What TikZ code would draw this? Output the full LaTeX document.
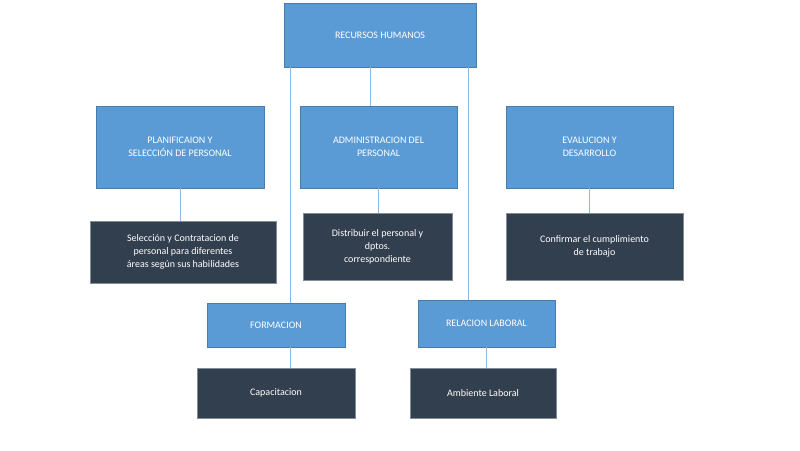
\documentclass[tikz,border=0pt]{standalone}
\usepackage{fontspec}
\setmainfont{Carlito}
\definecolor{cajaazul}{HTML}{5B9BD5}
\definecolor{cajaoscura}{HTML}{323F4F}
\begin{document}
\begin{tikzpicture}[x=1pt,y=-1pt,
    area/.style={draw=cajaazul!80!black,fill=cajaazul,text=white,align=center,inner sep=2pt,font=\fontsize{10}{13}\selectfont},
    tarea/.style={draw=cajaoscura!60!white,fill=cajaoscura,text=white,align=center,inner sep=2pt,font=\fontsize{10}{13}\selectfont},
    enlace/.style={draw=cajaazul!70!white,line width=0.6pt}]
    \useasboundingbox (0,0) rectangle (800,450);
    \node[area,minimum width=192,minimum height=64](rh)at(380,35){RECURSOS HUMANOS};

    \node[area,minimum width=168,minimum height=82](plan)at(180,147){PLANIFICAION Y\\SELECCIÓN DE PERSONAL};
    \node[area,minimum width=157,minimum height=82](admin)at(378.5,147){ADMINISTRACION DEL\\PERSONAL};
    \node[area,minimum width=167,minimum height=82](eval)at(589.5,147){EVALUCION Y\\DESARROLLO};

    \node[tarea,minimum width=186,minimum height=62](sel)at(183,252){Selección y Contratacion de\\personal para diferentes\\áreas según sus habilidades};
    \node[tarea,minimum width=149,minimum height=67](dist)at(377.5,246.5){Distribuir el personal y\\dptos.\\correspondiente};
    \node[tarea,minimum width=177,minimum height=67](conf)at(594.5,246.5){Confirmar el cumplimiento\\de trabajo};

    \node[area,minimum width=138,minimum height=44](form)at(276,325){FORMACION};
    \node[area,minimum width=137,minimum height=47](rel)at(486.5,323.5){RELACION LABORAL};

    \node[tarea,minimum width=158,minimum height=50](cap)at(276,393){Capacitacion};
    \node[tarea,minimum width=146,minimum height=50](amb)at(483,393){Ambiente Laboral};

    % enlaces
    \draw[enlace]([xshift=-90]rh.south)--([xshift=14]form.north);
    \draw[enlace]([xshift=-10]rh.south)--([xshift=-8.5]admin.north);
    \draw[enlace]([xshift=88]rh.south)--([xshift=-18.5]rel.north);
    \draw[enlace](plan)--(plan|-sel.north);
    \draw[enlace](admin.south)--(admin.south|-dist.north);
    \draw[enlace](eval.south)--(eval.south|-conf.north);
    \draw[enlace]([xshift=14]form.south)--([xshift=14]form.south|-cap.north);
    \draw[enlace](rel.south)--(rel.south|-amb.north);
\end{tikzpicture}
\end{document}
